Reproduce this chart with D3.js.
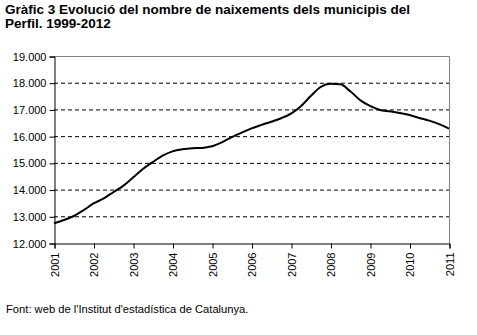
<!DOCTYPE html>
<html>
<head>
<meta charset="utf-8">
<script src="https://cdn.jsdelivr.net/npm/d3@7"></script>
<style>
  html, body { margin: 0; padding: 0; background: #fff; }
  svg { display: block; font-family: "Liberation Sans", Arial, sans-serif; }
</style>
</head>
<body>
<svg id="chart" width="477" height="335"></svg>
<script>
// Quarterly positions (decimal years) and births (12-month running totals)
const periods = d3.range(0, 41).map(q => 2001 + q / 4);
const births = [
  12740, 12860, 13010, 13230, 13480, 13660, 13900, 14140, 14450, 14770,
  15030, 15270, 15430, 15510, 15550, 15560, 15620, 15770, 15960, 16130,
  16290, 16420, 16540, 16670, 16840, 17120, 17500, 17840, 17960, 17940,
  17680, 17350, 17130, 16980, 16930, 16870, 16790, 16680, 16580, 16450,
  16280
];
const yearTicks = d3.range(2001, 2012);
const valueTicks = [12000, 13000, 14000, 15000, 16000, 17000, 18000, 19000];
const titleLines = [
  "Gràfic 3 Evolució del nombre de naixements dels municipis del",
  "Perfil. 1999-2012"
];
const sourceText = "Font: web de l'Institut d'estadística de Catalunya.";

const svg = d3.select("#chart");
const plot = { left: 54, right: 449, top: 56, bottom: 243 };

const x = d3.scaleLinear().domain([2001, 2011]).range([plot.left, plot.right]);
const y = d3.scaleLinear().domain([12000, 19000]).range([plot.bottom, plot.top]);

// Title
svg.append("g").selectAll("text").data(titleLines).join("text")
  .attr("x", 5).attr("y", (d, i) => 14 + i * 14)
  .attr("font-size", 13.5).attr("font-weight", "bold").attr("fill", "#000")
  .text(d => d);

// Dashed gridlines
svg.append("g").selectAll("line")
  .data(valueTicks.filter(v => v > 12000 && v < 19000)).join("line")
  .attr("x1", plot.left).attr("x2", plot.right)
  .attr("y1", d => y(d) + 0.5).attr("y2", d => y(d) + 0.5)
  .attr("stroke", "#000").attr("stroke-width", 1).attr("stroke-dasharray", "4,3");

// Plot frame (top and right)
svg.append("path")
  .attr("d", `M${plot.left},${plot.top + 0.5}H${plot.right + 0.5}V${plot.bottom}`)
  .attr("fill", "none").attr("stroke", "#808080").attr("stroke-width", 1);

// Y axis
const yAxis = svg.append("g")
  .attr("transform", `translate(${plot.left + 0.5},0.5)`)
  .call(d3.axisLeft(y).tickValues(valueTicks).tickSize(5).tickPadding(3)
    .tickFormat(d => d3.format(",")(d).replace(/,/g, ".")));
yAxis.select(".domain").attr("stroke", "#000");
yAxis.selectAll(".tick line").attr("stroke", "#000");
yAxis.selectAll("text").attr("font-size", 11).attr("fill", "#000")
  .attr("font-family", "'Liberation Sans', Arial, sans-serif");

// X axis
const xAxis = svg.append("g")
  .attr("transform", `translate(0.5,${plot.bottom + 0.5})`)
  .call(d3.axisBottom(x).tickValues(yearTicks).tickSize(5).tickFormat(d3.format("d")));
xAxis.select(".domain").attr("stroke", "#000");
xAxis.selectAll(".tick line").attr("stroke", "#000");
xAxis.selectAll("text")
  .attr("font-size", 11).attr("fill", "#000")
  .attr("font-family", "'Liberation Sans', Arial, sans-serif")
  .attr("transform", "rotate(-90)")
  .attr("text-anchor", "end")
  .attr("x", -9).attr("y", 0).attr("dy", "0.35em");

// Births line
const line = d3.line()
  .x((d, i) => x(periods[i]))
  .y(d => y(d))
  .curve(d3.curveMonotoneX);
svg.append("path").datum(births)
  .attr("d", line)
  .attr("fill", "none").attr("stroke", "#000").attr("stroke-width", 2)
  .attr("stroke-linejoin", "round");

// Source note
svg.append("text")
  .attr("x", 6).attr("y", 313)
  .attr("font-size", 11.2).attr("fill", "#000")
  .text(sourceText);
</script>
</body>
</html>
